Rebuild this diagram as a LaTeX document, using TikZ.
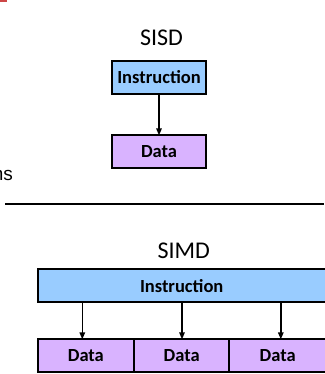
\documentclass[tikz,border=0pt]{standalone}
\usepackage{fontspec}
\setmainfont{Carlito}
\newfontfamily\arialfont{Liberation Sans}
\usetikzlibrary{arrows.meta}
\definecolor{instrblue}{RGB}{153,204,255}
\definecolor{datapurple}{RGB}{217,179,255}
\definecolor{markred}{RGB}{205,70,70}
\begin{document}
\begin{tikzpicture}[x=1pt,y=-1pt,
  box/.style={draw=black,line width=2pt,inner sep=0pt,outer sep=0pt,
    font=\fontsize{18.5}{20}\selectfont\bfseries},
  instrbox/.style={box,fill=instrblue},
  databox/.style={box,fill=datapurple},
  title/.style={anchor=base,inner sep=0pt,font=\fontsize{24}{26}\selectfont},
  flow/.style={line width=1.5pt,-{Triangle[length=7pt,width=5.5pt]}}]
\useasboundingbox (0,0) rectangle (324,374);

% cut-off marks at the left edge
\fill[markred] (0,0) rectangle (7,1.6);
\node[anchor=base east,inner sep=0pt,font=\arialfont\fontsize{19}{21}\selectfont] (side) at (13.2,180) {ns};

% single instruction, single data
\node[title] (sisd) at (161.5,45.7) {SISD};
\node[instrbox,minimum width=94.6pt,minimum height=33pt] (si) at (159,77.3) {Instruction};
\node[databox,minimum width=94.6pt,minimum height=32.7pt] (sd) at (159,151.7) {Data};
\draw[flow] (si.south) -- (sd.north);

% separator
\coordinate (sepL) at (5,204);
\coordinate (sepR) at (324,204);
\draw[line width=1.6pt] (sepL) -- (sepR);

% single instruction, multiple data
\node[title] (simd) at (183.7,258.3) {SIMD};
\node[instrbox,minimum width=288pt,minimum height=33pt] (mi) at (181.7,285.8) {Instruction};
\node[databox,minimum width=96.3pt,minimum height=32.4pt] (d1) at (85.85,355.5) {Data};
\node[databox,minimum width=95.3pt,minimum height=32.4pt] (d2) at (181.65,355.5) {Data};
\node[databox,minimum width=96.7pt,minimum height=32.4pt] (d3) at (277.65,355.5) {Data};
\coordinate (a1) at (82.3,0);
\coordinate (a2) at (182,0);
\coordinate (a3) at (280.8,0);
\draw[flow] (mi.south -| a1) -- (d1.north -| a1);
\draw[flow] (mi.south -| a2) -- (d2.north -| a2);
\draw[flow] (mi.south -| a3) -- (d3.north -| a3);
\end{tikzpicture}
\end{document}
